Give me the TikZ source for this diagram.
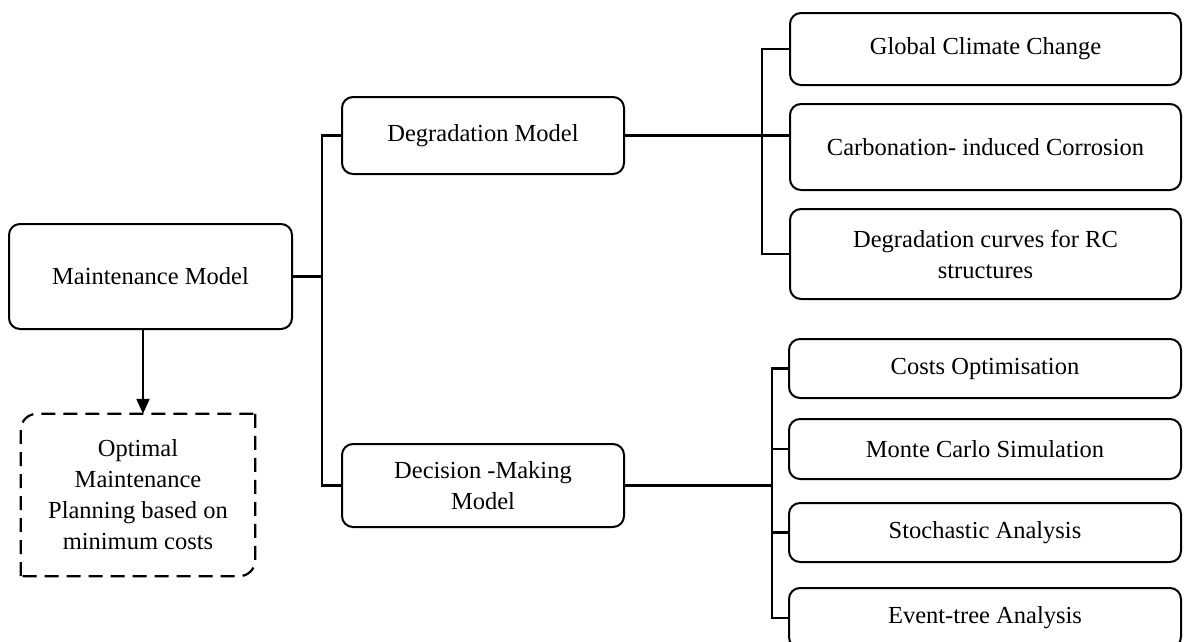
\documentclass[tikz,border=0pt]{standalone}
\usepackage{fontspec}
\setmainfont{Liberation Serif}
\usetikzlibrary{arrows.meta}
\begin{document}
\begin{tikzpicture}[x=1pt,y=-1pt,
  box/.style={draw, line width=2pt, rounded corners=11pt, align=center,
              font=\fontsize{24.5}{31}\selectfont, inner sep=0pt},
  plainbox/.style={align=center, font=\fontsize{24.5}{31}\selectfont, inner sep=0pt},
  link/.style={line width=2.2pt},
  dashline/.style={line width=2.2pt, dash pattern=on 14pt off 8pt, rounded corners=16pt}]
\useasboundingbox (0,0) rectangle (1184,641);
\clip (0,0) rectangle (1184,641);

% left column
\node[box, minimum width=283pt, minimum height=105pt] (maint) at (150.5,276.5) {Maintenance Model};
\node[plainbox, minimum width=234pt, minimum height=162pt] (plan) at (138,495)
  {Optimal\\Maintenance\\Planning based on\\minimum costs};
\draw[dashline] (plan.south west) -- (plan.north west) -- (plan.north east);
\draw[dashline] (plan.north east) -- (plan.south east) -- (plan.south west);

% middle column
\node[box, minimum width=282pt, minimum height=77pt] (deg) at (483,135.5) {Degradation Model};
\node[box, minimum width=282pt, minimum height=83pt] (dec) at (483,485.5) {Decision -Making\\Model};

% degradation factors
\node[box, minimum width=391pt, minimum height=72pt] (gcc) at (985.5,49) {Global Climate Change};
\node[box, minimum width=391pt, minimum height=86pt] (carb) at (985.5,147) {Carbonation- induced Corrosion};
\node[box, minimum width=391pt, minimum height=90pt] (curves) at (985.5,254) {Degradation curves for RC\\structures};

% decision tools
\node[box, minimum width=392pt, minimum height=59pt] (costs) at (985,368.5) {Costs Optimisation};
\node[box, minimum width=392pt, minimum height=60pt] (mc) at (985,449) {Monte Carlo Simulation};
\node[box, minimum width=392pt, minimum height=59pt] (stoch) at (985,532.5) {Stochastic Analysis};
\node[box, minimum width=392pt, minimum height=60pt] (event) at (985,618) {Event-tree Analysis};

% trunk positions
\coordinate (tl) at (322,0);
\coordinate (t1) at (762,0);
\coordinate (t2) at (772,0);

% maintenance model to its sub-models
\draw[link] (maint.east) -- (maint.east -| tl);
\draw[link] (deg.west) -- (deg.west -| tl) -- (dec.west -| tl) -- (dec.west);

% degradation branch
\draw[link] (deg.east) -- (deg.east -| carb.west);
\draw[link] (gcc.west) -- (gcc.west -| t1) -- (curves.west -| t1) -- (curves.west);

% decision branch
\draw[link] (dec.east) -- (dec.east -| t2);
\draw[link] (costs.west) -- (costs.west -| t2) -- (event.west -| t2) -- (event.west);
\draw[link] (mc.west -| t2) -- (mc.west);
\draw[link] (stoch.west -| t2) -- (stoch.west);

% arrow to the planning outcome
\draw[link, -{Triangle[length=15pt,width=13pt]}]
  ([xshift=-7.5pt]maint.south) -- ([xshift=-7.5pt]maint.south |- plan.north);
\end{tikzpicture}
\end{document}
